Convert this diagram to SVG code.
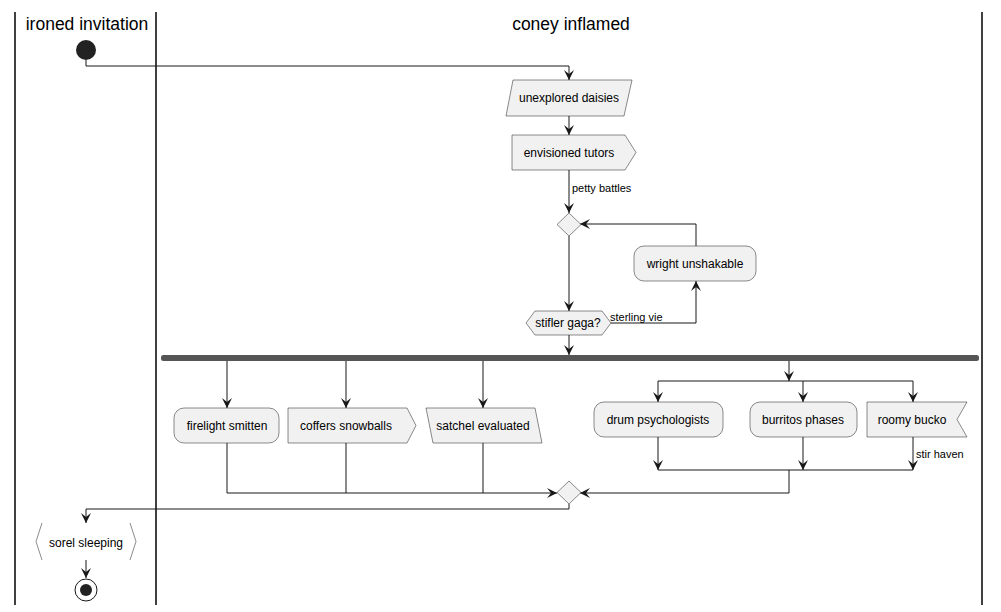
<svg xmlns="http://www.w3.org/2000/svg" width="1001" height="612" viewBox="0 0 1001 612">
<style>
.lane{stroke:#000;stroke-width:1.5;fill:none}
.title{font-family:"Liberation Sans",Arial,sans-serif;font-size:17.5px;fill:#000;text-anchor:middle}
.node{fill:#F1F1F1;stroke:#181818;stroke-width:0.5}
.t{font-family:"Liberation Sans",Arial,sans-serif;font-size:12px;fill:#000;text-anchor:middle}
.lbl{font-family:"Liberation Sans",Arial,sans-serif;font-size:11px;fill:#000}
.c{fill:none;stroke:#181818;stroke-width:1}
.a{fill:none;stroke:#181818;stroke-width:1;marker-end:url(#ah)}
</style>
<defs>
<marker id="ah" markerUnits="userSpaceOnUse" markerWidth="11" markerHeight="11" refX="10" refY="5" orient="auto" viewBox="0 0 11 11">
<path d="M0,0 L10,5 L0,10 L4,5 Z" fill="#181818"/>
</marker>
</defs>
<rect width="1001" height="612" fill="#fff"/>
<g id="lanes">
<line class="lane" x1="15" y1="12" x2="15" y2="605"/>
<line class="lane" x1="156" y1="12" x2="156" y2="605"/>
<line class="lane" x1="982" y1="12" x2="982" y2="605"/>
<text class="title" x="87" y="30">ironed invitation</text>
<text class="title" x="571" y="30">coney inflamed</text>
</g>
<g id="connectors">
<path class="a" d="M86,60 V66 H569 V80"/>
<path class="a" d="M569,116 V135"/>
<path class="a" d="M569,170 V213"/>
<text class="lbl" x="572" y="192">petty battles</text>
<path class="a" d="M569,236 V311"/>
<path class="a" d="M611,323 H696 V281"/>
<text class="lbl" x="610" y="321">sterling vie</text>
<path class="a" d="M696,246 V224 H580"/>
<path class="a" d="M569,335 V355"/>
<path class="a" d="M227,361 V408"/>
<path class="a" d="M346,361 V408"/>
<path class="a" d="M483,361 V408"/>
<path class="a" d="M789,361 V381"/>
<path class="c" d="M658,381 H913"/>
<path class="a" d="M658,381 V402"/>
<path class="a" d="M803,381 V402"/>
<path class="a" d="M913,381 V402"/>
<path class="a" d="M658,437 V470"/>
<path class="a" d="M803,437 V470"/>
<path class="a" d="M913,437 V470"/>
<text class="lbl" x="916" y="458">stir haven</text>
<path class="c" d="M658,470 H913"/>
<path class="a" d="M789,470 V493 H580"/>
<path class="a" d="M227,443 V493 H557"/>
<path class="c" d="M346,443 V493"/>
<path class="c" d="M483,443 V493"/>
<path class="a" d="M569,504 V509 H86 V523"/>
<path class="a" d="M86,560 V578"/>
</g>
<g id="start"><circle cx="86" cy="50" r="10" fill="#222"/></g>
<g id="unexplored-daisies">
<polygon class="node" points="513,80 632,80 624,116 506,116"/>
<text class="t" x="569" y="102">unexplored daisies</text>
</g>
<g id="envisioned-tutors">
<polygon class="node" points="512,135 625,135 636,152.5 625,170 512,170"/>
<text class="t" x="569" y="157">envisioned tutors</text>
</g>
<g id="loop-diamond">
<polygon class="node" points="569,213 581,224.5 569,236 557,224.5"/>
</g>
<g id="wright-unshakable">
<rect class="node" x="634" y="246" width="122" height="35" rx="10"/>
<text class="t" x="695" y="268">wright unshakable</text>
</g>
<g id="stifler-gaga">
<polygon class="node" points="535,311 602,311 611,323 602,335 535,335 526,323"/>
<text class="t" x="568" y="327">stifler gaga?</text>
</g>
<g id="fork"><rect x="161" y="355" width="818" height="6" rx="2.5" fill="#555"/></g>
<g id="firelight-smitten">
<rect class="node" x="174" y="408" width="105" height="35" rx="10"/>
<text class="t" x="227" y="430">firelight smitten</text>
</g>
<g id="coffers-snowballs">
<polygon class="node" points="288,408 407,408 416,425.5 407,443 288,443"/>
<text class="t" x="346" y="430">coffers snowballs</text>
</g>
<g id="satchel-evaluated">
<polygon class="node" points="426,408 535,408 542,443 433,443"/>
<text class="t" x="483" y="430">satchel evaluated</text>
</g>
<g id="drum-psychologists">
<rect class="node" x="594" y="402" width="129" height="35" rx="10"/>
<text class="t" x="658" y="424">drum psychologists</text>
</g>
<g id="burritos-phases">
<rect class="node" x="750" y="402" width="107" height="35" rx="10"/>
<text class="t" x="803" y="424">burritos phases</text>
</g>
<g id="roomy-bucko">
<polygon class="node" points="867,402 967,402 957,419.5 967,437 867,437"/>
<text class="t" x="912" y="424">roomy bucko</text>
</g>
<g id="merge-diamond">
<polygon class="node" points="569,481 581,492.5 569,504 557,492.5"/>
</g>
<g id="sorel-sleeping">
<rect x="42" y="523" width="88" height="37" fill="#fff"/>
<polyline points="42,523 36,541.5 42,560" fill="none" stroke="#181818" stroke-width="0.5"/>
<polyline points="130,523 136,541.5 130,560" fill="none" stroke="#181818" stroke-width="0.5"/>
<text class="t" x="86" y="547">sorel sleeping</text>
</g>
<g id="end">
<circle cx="86" cy="590" r="11" fill="#fff" stroke="#181818" stroke-width="1"/>
<circle cx="86" cy="590" r="6" fill="#222"/>
</g>
</svg>
